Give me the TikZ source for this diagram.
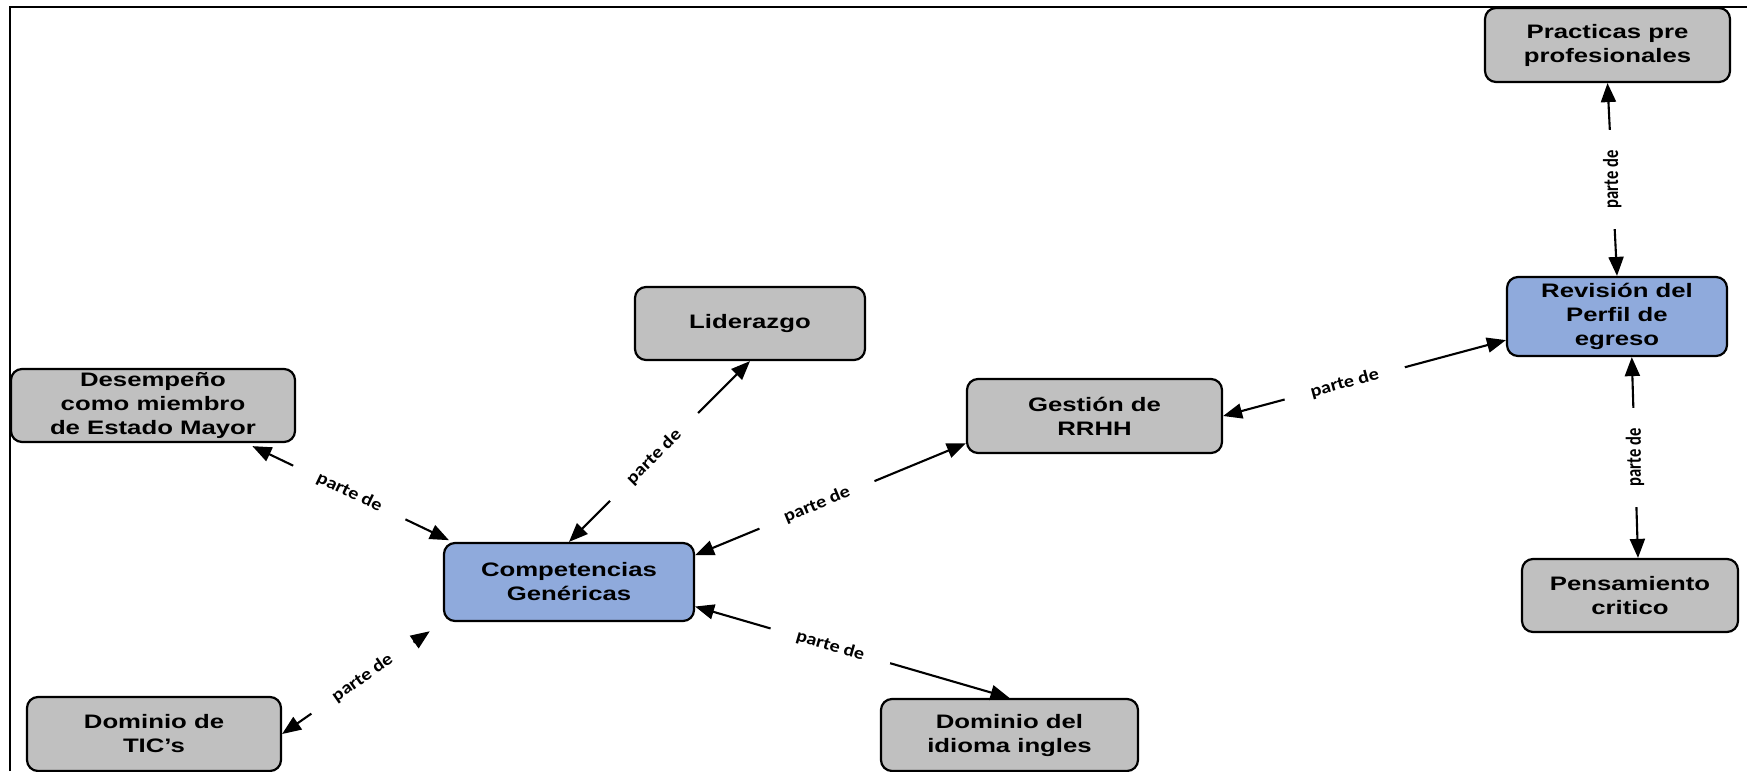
\documentclass[tikz,border=0pt]{standalone}
\usepackage{fontspec}
\setmainfont{Liberation Sans}
\newfontfamily\nodefont[FakeStretch=1.32]{Liberation Sans}
\newfontfamily\lblfont[FakeStretch=1.15]{Carlito}
\newfontfamily\vlblfont[FakeStretch=0.77]{Carlito}
\usetikzlibrary{arrows.meta}
\definecolor{boxgray}{RGB}{192,192,192}
\definecolor{boxblue}{RGB}{143,170,220}
\begin{document}
\begin{tikzpicture}[x=1pt,y=-1pt,
  box/.style={draw=black, line width=2.2pt, rounded corners=11pt, align=center, text=black,
    font=\nodefont\bfseries\fontsize{19.5}{24}\selectfont, inner sep=0pt},
  gbox/.style={box, fill=boxgray},
  bbox/.style={box, fill=boxblue},
  conn/.style={line width=2.1pt, {Triangle[length=19pt,width=15pt]}-{Triangle[length=19pt,width=15pt]}},
  lbl/.style={fill=white, inner xsep=27pt, inner ysep=4pt, sloped,
    font=\lblfont\bfseries\fontsize{17.5}{18}\selectfont},
  vlbl/.style={fill=white, inner xsep=21pt, inner ysep=4pt, rotate=90,
    font=\vlblfont\bfseries\fontsize{21.5}{22}\selectfont},
]
\useasboundingbox (0,0) rectangle (1747,771);
\draw[line width=2.2pt] (10,771) -- (10,7) -- (1747,7);

\node[gbox, minimum width=245pt, minimum height=74pt] (prac) at (1607.5,45) {Practicas pre\\profesionales};
\node[bbox, minimum width=220pt, minimum height=79pt] (rev) at (1617,316.5) {Revisión del\\Perfil de\\egreso};
\node[gbox, minimum width=216pt, minimum height=73pt] (pens) at (1630,595.5) {Pensamiento\\critico};
\node[gbox, minimum width=255pt, minimum height=74pt] (gest) at (1094.5,416) {Gestión de\\RRHH};
\node[gbox, minimum width=230pt, minimum height=73pt] (lid) at (750,323.5) {Liderazgo};
\node[bbox, minimum width=250pt, minimum height=78pt] (comp) at (569,582) {Competencias\\Genéricas};
\node[gbox, minimum width=284pt, minimum height=73pt] (des) at (153,405.5) {Desempeño\\como miembro\\de Estado Mayor};
\node[gbox, minimum width=254pt, minimum height=74pt] (tic) at (154,734) {Dominio de\\TIC’s};
\node[gbox, minimum width=257pt, minimum height=72pt] (idi) at (1009.5,735) {Dominio del\\idioma ingles};

\draw[conn, shorten <=7pt, shorten >=4pt] (des.-22) -- node[lbl]{parte de} (comp.161);
\draw[conn] (lid.south) -- node[lbl, pos=0.53]{parte de} (comp.north);
\draw[conn] (comp.12) -- node[lbl, pos=0.45]{parte de} (gest.192);
\draw[conn] (comp.-11) -- node[lbl, pos=0.43]{parte de} (idi.north);
\draw[conn, shorten >=16pt] (tic.east) -- node[lbl]{parte de} (comp.south west);
\draw[conn] (gest.east) -- node[lbl, pos=0.43]{parte de} (rev.192);
\draw[conn] (rev.north) -- node[vlbl]{parte de} (prac.south);
\draw[conn] (pens.78) -- node[vlbl]{parte de} (rev.-70);
\end{tikzpicture}
\end{document}
